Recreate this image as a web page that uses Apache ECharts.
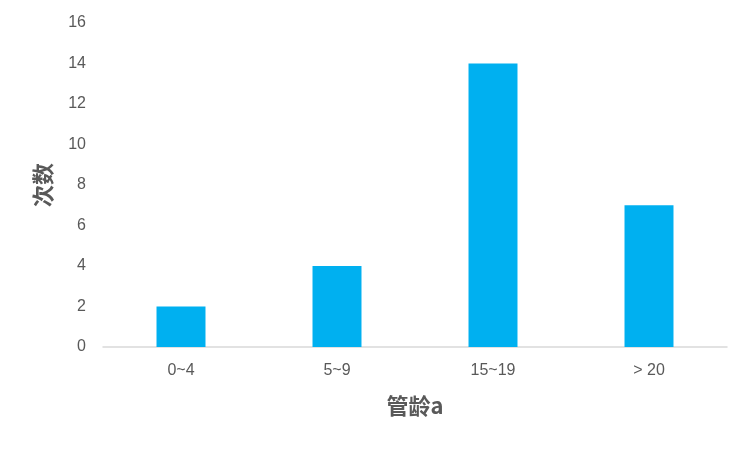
<!DOCTYPE html>
<html>
<head>
<meta charset="utf-8">
<script src="https://cdn.jsdelivr.net/npm/echarts@6/dist/echarts.min.js"></script>
<style>html,body{margin:0;padding:0;background:#fff;}#c{width:749px;height:450px;}</style>
</head>
<body>
<div id="c"></div>
<script>
const categories = ['0~4', '5~9', '15~19', '> 20'];
const counts = [2, 4, 14, 7];
const yTicks = { min: 0, max: 16, interval: 2 };

const chart = echarts.init(document.getElementById('c'));
chart.setOption({
  animation: false,
  grid: { left: 103, right: 22, top: 23, bottom: 103, containLabel: false },
  xAxis: {
    type: 'category',
    data: categories,
    name: '管龄a',
    nameLocation: 'middle',
    nameGap: 48,
    nameTextStyle: { fontFamily: 'Noto Sans CJK SC', fontSize: 22, fontWeight: 'bold', color: '#595959' },
    axisLine: { lineStyle: { color: '#D9D9D9', width: 1.5 } },
    axisTick: { show: false },
    axisLabel: { color: '#595959', fontSize: 16, fontFamily: 'Liberation Sans', margin: 16 }
  },
  yAxis: {
    type: 'value',
    min: yTicks.min, max: yTicks.max, interval: yTicks.interval,
    name: '次数',
    nameLocation: 'middle',
    nameGap: 49,
    nameTextStyle: { fontFamily: 'Noto Sans CJK SC', fontSize: 22, fontWeight: 'bold', color: '#595959' },
    axisLine: { show: false },
    axisTick: { show: false },
    splitLine: { show: false },
    axisLabel: { color: '#595959', fontSize: 16, fontFamily: 'Liberation Sans', margin: 17 }
  },
  series: [{
    type: 'bar',
    data: counts,
    barWidth: '31.4%',
    itemStyle: { color: '#00B0F0' }
  }]
});
</script>
</body>
</html>
